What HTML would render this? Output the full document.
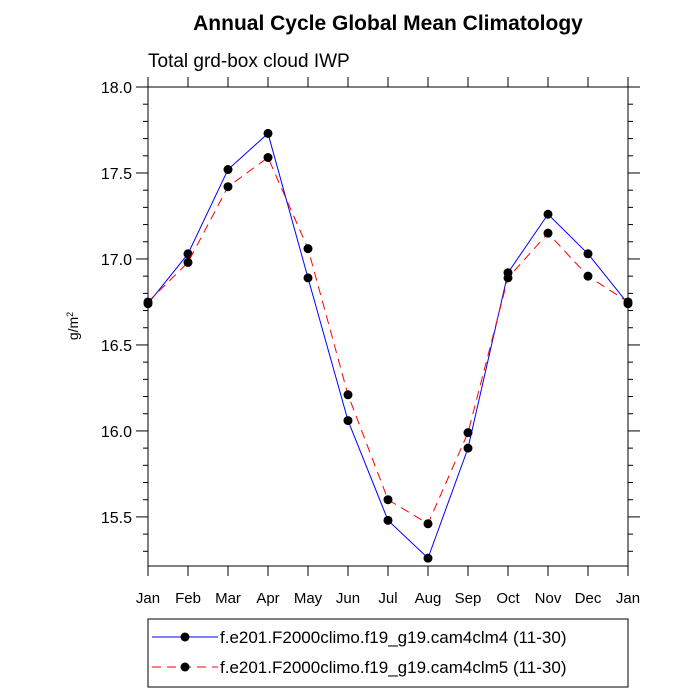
<!DOCTYPE html>
<html><head><meta charset="utf-8"><style>body{margin:0;background:#fff}svg{display:block}</style></head>
<body>
<svg id="chart" width="700" height="700" xmlns="http://www.w3.org/2000/svg" font-family="Liberation Sans, sans-serif">
<text x="388" y="30" text-anchor="middle" font-size="21" font-weight="bold">Annual Cycle Global Mean Climatology</text>
<text x="148" y="67" font-size="19">Total grd-box cloud IWP</text>
<text transform="translate(78,326) rotate(-90)" text-anchor="middle" font-size="14">g/m<tspan dy="-5" font-size="9">2</tspan></text>
<g id="axes"></g>
<g id="series"></g>
<g>
<rect x="148" y="619" width="480" height="68" fill="none" stroke="#000" stroke-width="1"/>
<g>
<line x1="152" y1="637" x2="218" y2="637" stroke="#0000ff" stroke-width="1"/>
<circle cx="185" cy="637" r="4.5" fill="#000"/>
<text x="220" y="643" font-size="17">f.e201.F2000climo.f19_g19.cam4clm4 (11-30)</text></g>
<g>
<line x1="152" y1="667" x2="218" y2="667" stroke="#ff0000" stroke-width="1" stroke-dasharray="9,6"/>
<circle cx="185" cy="667" r="4.5" fill="#000"/>
<text x="220" y="673" font-size="17">f.e201.F2000climo.f19_g19.cam4clm5 (11-30)</text></g>
</g>
</svg>
<script>
const months=["Jan","Feb","Mar","Apr","May","Jun","Jul","Aug","Sep","Oct","Nov","Dec","Jan"];
const cam4=[16.74,17.03,17.52,17.73,16.89,16.06,15.48,15.26,15.90,16.92,17.26,17.03,16.74];
const clm5=[16.75,16.98,17.42,17.59,17.06,16.21,15.60,15.46,15.99,16.89,17.15,16.90,16.75];
const yTicks=["15.5","16.0","16.5","17.0","17.5","18.0"];
const X0=148,X1=628,Y0=87,Y1=566,YMAX=18.0,YMIN=15.2145;
const xs=i=>X0+i*(X1-X0)/(months.length-1);
const ys=v=>Y0+(YMAX-v)*(Y1-Y0)/(YMAX-YMIN);
const NS="http://www.w3.org/2000/svg";
function mk(tag,attrs,parent){const e=document.createElementNS(NS,tag);for(const k in attrs)e.setAttribute(k,attrs[k]);parent.appendChild(e);return e;}
const ax=document.getElementById('axes');
const frame=mk('rect',{x:X0,y:Y0,width:X1-X0,height:Y1-Y0,fill:'none',stroke:'#000','stroke-width':1},ax);


for(let v=15.3;v<=18.0001;v+=0.1){
  const y=ys(v);const major=Math.abs(v*2-Math.round(v*2))<1e-6;const L=major?12:5;
  mk('line',{x1:X0-L,x2:X0,y1:y,y2:y,stroke:'#000'},ax);
  mk('line',{x1:X1,x2:X1+L,y1:y,y2:y,stroke:'#000'},ax);
}
yTicks.forEach(t=>{const e=mk('text',{x:X0-16,y:ys(parseFloat(t))+6,'text-anchor':'end','font-size':16},ax);e.textContent=t;

});
months.forEach((m,i)=>{const x=xs(i);mk('line',{x1:x,x2:x,y1:Y1,y2:Y1+10,stroke:'#000'},ax);
mk('line',{x1:x,x2:x,y1:Y0-10,y2:Y0,stroke:'#000'},ax);
const e=mk('text',{x:x,y:Y1+37,'text-anchor':'middle','font-size':15},ax);e.textContent=m;

});
const sg=document.getElementById('series');
function draw(vals,color,dash,name){
  const g=mk('g',{},sg);
  
  
  const a={points:vals.map((v,i)=>xs(i)+','+ys(v)).join(' '),fill:'none',stroke:color,'stroke-width':1};
  if(dash)a['stroke-dasharray']=dash;
  mk('polyline',a,g);
  vals.forEach((v,i)=>{const c=mk('circle',{cx:xs(i),cy:ys(v),r:4.5,fill:'#000'},g);
  
  });
}
draw(cam4,'#0000ff',null,'series-cam4clm4');
draw(clm5,'#ff0000','9,6','series-cam4clm5');
</script>
</body></html>
